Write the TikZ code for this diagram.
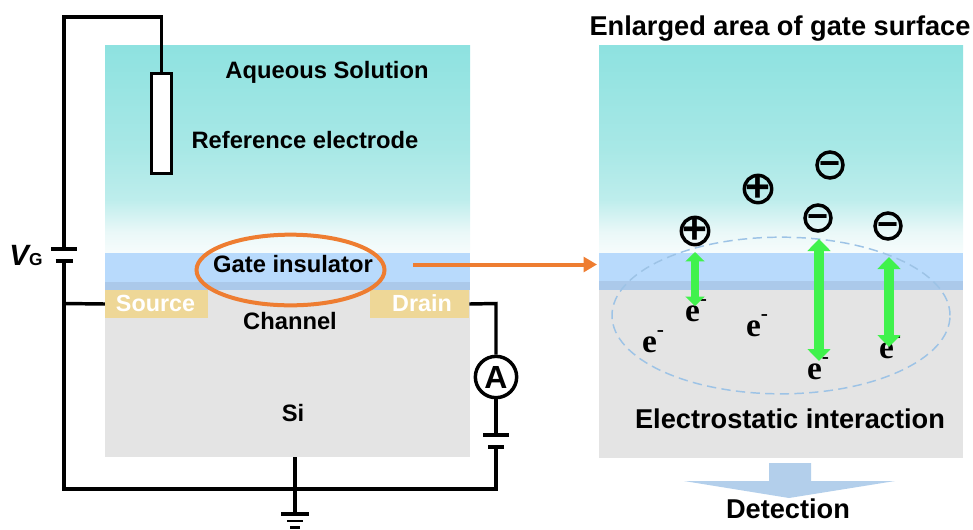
\documentclass[tikz,border=0pt]{standalone}
\usepackage{fontspec}
\setmainfont{Liberation Sans}
\newfontfamily\eserif{Liberation Serif}
\usetikzlibrary{calc, arrows.meta, positioning, shapes.geometric}
\usepackage{xcolor}
\definecolor{aqtop}{HTML}{8EE2E0}
\definecolor{aqmid}{HTML}{A8E8E6}
\definecolor{aqlow}{HTML}{BDEDEC}
\definecolor{aqpale}{HTML}{EAF8F8}
\definecolor{insul}{HTML}{B8DAFC}
\definecolor{insuldark}{HTML}{ABC9EA}
\definecolor{sigray}{HTML}{E4E4E4}
\definecolor{contact}{HTML}{EED797}
\definecolor{ringorange}{HTML}{EE7D31}
\definecolor{fieldgreen}{HTML}{40F24C}
\definecolor{dashblue}{HTML}{9DC3E6}
\definecolor{downblue}{HTML}{B3CFEB}
\pgfdeclareverticalshading{aqueous}{100bp}{color(0bp)=(aqpale!40!white); color(25bp)=(aqpale!40!white); color(30bp)=(aqpale); color(38bp)=(aqlow); color(50bp)=(aqmid); color(75bp)=(aqtop); color(100bp)=(aqtop)}

\begin{document}
\begin{tikzpicture}[x=0.75pt, y=-0.75pt, >=latex]
	\tikzstyle{wire} = [line width=2.6pt, draw=black, line cap=butt, line join=miter]
	\tikzstyle{plate} = [line width=2.6pt, draw=black]
	\tikzstyle{thinplate} = [line width=2pt, draw=black]
	\tikzstyle{txt} = [font=\fontsize{17.8}{18}\selectfont\bfseries, inner sep=0pt, anchor=base]
	\tikzstyle{bigtxt} = [font=\fontsize{20.4}{21}\selectfont\bfseries, inner sep=0pt, anchor=base]
	\tikzstyle{pad} = [fill=contact, inner sep=0pt, minimum height=21pt]
	\tikzstyle{padtxt} = [text=white, font=\fontsize{17.5}{18}\selectfont\bfseries, inner sep=0pt, anchor=base]
	\tikzstyle{ring} = [circle, draw=black, line width=2.6pt, inner sep=0pt, minimum size=20.5pt]
	\tikzstyle{sign} = [inner sep=0pt, font=\fontsize{32}{32}\selectfont\bfseries]
	\tikzstyle{minus} = [inner sep=0pt, yshift=-2.6pt, font=\fontsize{27}{27}\selectfont\bfseries]
	\tikzstyle{elec} = [inner sep=0pt, anchor=base, font=\eserif\fontsize{25}{25}\selectfont\bfseries]
	\tikzstyle{thinfield} = [draw=fieldgreen, line width=6.4pt, {Triangle[length=7pt, width=14pt]}-{Triangle[length=7pt, width=14pt]}]
	\tikzstyle{field} = [draw=fieldgreen, line width=8.2pt, {Triangle[length=9pt, width=17pt]}-{Triangle[length=9pt, width=17pt]}]

	% device
	\shade[shading=aqueous] (105,45) rectangle (470,253);
	\fill[insul] (105,253) rectangle (470,282);
	\fill[insuldark] (105,282) rectangle (470,290);
	\fill[sigray] (105,290) rectangle (470,457);
	\node[pad, minimum width=77pt] at (156.5,304) (source) {};
	\node[pad, minimum width=74.5pt] at (419.5,304) (drain) {};
	\node[padtxt] at (155.5,311) (srctxt) {Source};
	\node[padtxt] at (422,311) (drntxt) {Drain};

	% enlarged area
	\shade[shading=aqueous] (599,45) rectangle (963,253);
	\fill[insul] (599,253) rectangle (963,281);
	\fill[insuldark] (599,281) rectangle (963,290);
	\fill[sigray] (599,290) rectangle (963,458);

	\node[txt] at (327,78) (aq) {Aqueous Solution};
	\node[txt] at (305,148) (ref) {Reference electrode};
	\node[txt] at (293,272) (gate) {Gate insulator};
	\node[txt] at (290,329) (chan) {Channel};
	\node[txt] at (293,421) (si) {Si};
	\node[bigtxt] at (780,35) (title) {Enlarged area of gate surface};
	\node[bigtxt] at (790,428) (inter) {Electrostatic interaction};
	\node[bigtxt] at (788,518) (detect) {Detection};
	\node[inner sep=0pt, anchor=base] at (26,265) (vg) {\fontsize{22}{22}\selectfont\bfseries\itshape V\fontsize{13}{13}\selectfont\upshape G};

	% circuit
	\node[draw=black, line width=2.2pt, fill=white, inner sep=0pt, minimum width=15.5pt, minimum height=75.5pt] at (161.5,123.5) (elecrode) {};
	\node[ring, fill=white, minimum size=31pt, font=\fontsize{24}{24}\selectfont\bfseries] at (496,377) (amp) {A};

	\coordinate (c1) at (64,17);
	\coordinate (c2) at (161.5,17);
	\coordinate (b1) at (64,249);
	\coordinate (b2) at (64,261);
	\coordinate (c3) at (64,489);
	\coordinate (j1) at (64,303.5);
	\coordinate (g0) at (295,457);
	\coordinate (g1) at (295,514);
	\coordinate (c4) at (496,489);
	\coordinate (b3) at (496,447);
	\coordinate (b4) at (496,435);
	\coordinate (c5) at (496,303.5);

	\draw[wire] (elecrode.north) -- (c2) -- (c1) -- (b1);
	\draw[wire] (b2) -- (c3) -- (c4) -- (b3);
	\draw[wire] (j1) -- (source.west);
	\draw[wire] (drain.east) -- (c5) -- (amp.north);
	\draw[wire] (amp.south) -- (b4);
	\draw[wire] (g0) -- (g1);

	\draw[plate] ($(b1)+(-13,0)$) -- ($(b1)+(13,0)$);
	\draw[plate] ($(b2)+(-8.5,0)$) -- ($(b2)+(8.5,0)$);
	\draw[plate] ($(b4)+(-13,0)$) -- ($(b4)+(13,0)$);
	\draw[plate] ($(b3)+(-8,0)$) -- ($(b3)+(8,0)$);
	\draw[plate] ($(g1)+(-14,0)$) -- ($(g1)+(14,0)$);
	\draw[thinplate] (287,521) -- (303,521);
	\draw[thinplate] (290,527.8) -- (300,527.8);

	% ring and pointer
	\node[ellipse, draw=ringorange, line width=3pt, inner sep=0pt, minimum width=141pt, minimum height=53pt] at (290.5,270) (zone) {};
	\coordinate (p1) at (413,264.5);
	\coordinate (p2) at (597,264.5);
	\draw[draw=ringorange, line width=3pt, -{Triangle[length=10pt, width=11pt]}] (p1) -- (p2);

	% charges
	\node[ellipse, draw=dashblue, dashed, line width=1.1pt, dash pattern=on 7pt off 4pt, inner sep=0pt, minimum width=253.5pt, minimum height=117.5pt] at (781,315.5) (edl) {};

	\coordinate (f1) at (695,252);
	\coordinate (f2) at (695,306);
	\coordinate (f3) at (819,239);
	\coordinate (f4) at (819,361);
	\coordinate (f5) at (889,257);
	\coordinate (f6) at (889,347);

	\node[elec] at (696,321) (e1) {e\raisebox{1ex}{\fontsize{16}{16}\selectfont -}};
	\node[elec] at (757,336) (e2) {e\raisebox{1ex}{\fontsize{16}{16}\selectfont -}};
	\node[elec] at (653,352) (e3) {e\raisebox{1ex}{\fontsize{16}{16}\selectfont -}};
	\node[elec] at (818,379) (e4) {e\raisebox{1ex}{\fontsize{16}{16}\selectfont -}};
	\node[elec] at (890,358) (e5) {e\raisebox{1ex}{\fontsize{16}{16}\selectfont -}};

	\draw[thinfield] (f1) -- (f2);
	\draw[field] (f3) -- (f4);
	\draw[field] (f5) -- (f6);

	\node[ring, label={[sign]center:+}] at (695,231) (ion1) {};
	\node[ring, label={[sign]center:+}] at (758,189) (ion2) {};
	\node[ring, minimum size=19.5pt, label={[minus]center:−}] at (830,165) (ion3) {};
	\node[ring, minimum size=19.5pt, label={[minus]center:−}] at (818,218) (ion4) {};
	\node[ring, minimum size=19.5pt, label={[minus]center:−}] at (888,226) (ion5) {};

	% result
	\fill[downblue] (769,463) -- (811,463) -- (811,481) -- (895,481) -- (789,498) -- (684,481) -- (769,481) -- cycle;

	\useasboundingbox (0,0) rectangle (973,529);
\end{tikzpicture}
\end{document}
